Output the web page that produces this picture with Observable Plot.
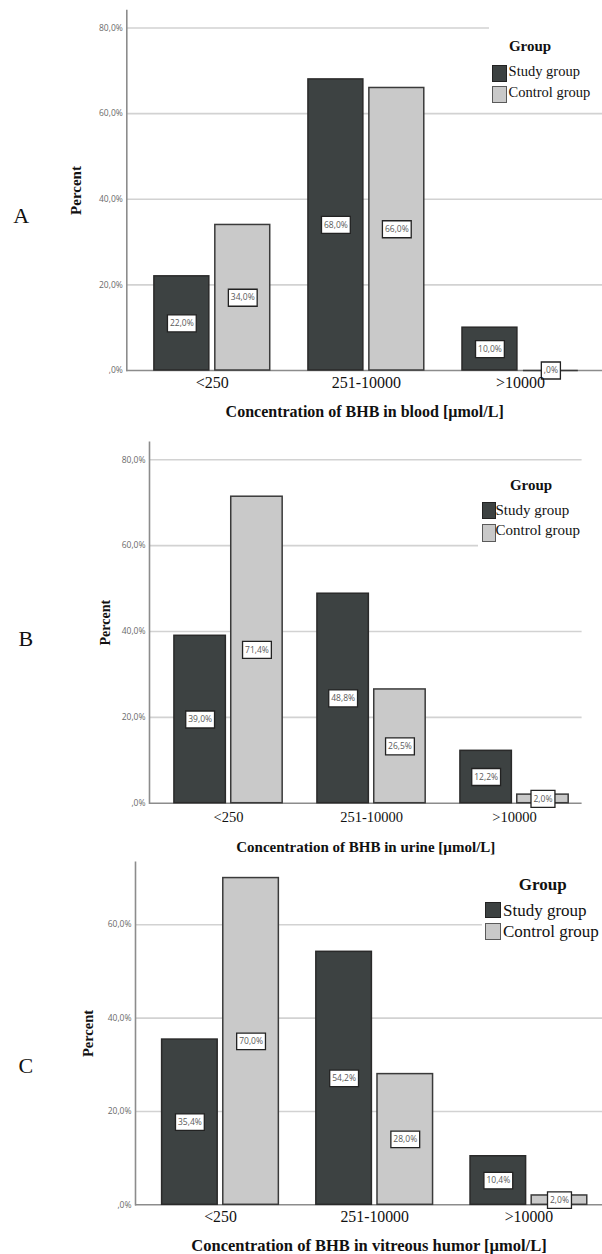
<!DOCTYPE html>
<html><head><meta charset="utf-8">
<script src="https://cdn.jsdelivr.net/npm/d3@7"></script>
<script src="https://cdn.jsdelivr.net/npm/@observablehq/plot@0.6"></script>
<style>
html,body{margin:0;padding:0;background:#fff;}
#root{position:relative;width:602px;height:1254px;overflow:hidden;background:#fff;}
.panel{position:relative;width:602px;}
.panel svg{display:block;}
.lbl{position:absolute;white-space:nowrap;line-height:1;font-family:"Liberation Serif","Times New Roman",serif;color:#111;}
.legend{position:absolute;background:#fff;}
.sw{position:absolute;box-sizing:border-box;}
g[aria-label="y-axis label"] text, g[aria-label="x-axis label"] text{font-family:"Liberation Serif",serif;font-weight:bold;fill:#111;}
</style></head><body><div id="root"></div>
<script>
// ---- data ----
const categories = ["<250", "251-10000", ">10000"];
const groups = ["Study group", "Control group"];
const bloodStudy = [22.0, 68.0, 10.0];
const bloodControl = [34.0, 66.0, 0.0];
const urineStudy = [39.0, 48.8, 12.2];
const urineControl = [71.4, 26.5, 2.0];
const vitreousStudy = [35.4, 54.2, 10.4];
const vitreousControl = [70.0, 28.0, 2.0];
const yTicksAB = [0, 20, 40, 60, 80];
const yTicksC = [0, 20, 40, 60];
const panelLetters = ["A", "B", "C"];
const xTitles = ["Concentration of BHB in blood [µmol/L]", "Concentration of BHB in urine [µmol/L]", "Concentration of BHB in vitreous humor [µmol/L]"];
const yTitle = "Percent";
const legendTitle = "Group";

// ---- style ----
const STUDY = "#3d4242", CONTROL = "#c9c9c9", EDGE = "#2a2a2a";
const fmt = v => (v === 0 ? "" : (Math.floor(v)).toString()) + "," + Math.round((v % 1) * 10) + "%";
const labelFont = "8.5px 'Open Sans'";
const cv = document.createElement("canvas").getContext("2d");
cv.font = labelFont;
const halfBox = t => (cv.measureText(t).width + 5) / 2;
const boxSymbol = h => ({draw(ctx, size) {
  const r = Math.sqrt(size / Math.PI);
  ctx.moveTo(-r, -h / 2); ctx.lineTo(r, -h / 2); ctx.lineTo(r, h / 2); ctx.lineTo(-r, h / 2); ctx.closePath();
}});

const layouts = [
  {height: 424, mt: 10, mb: 54, ml: 126.3, mr: 0, yMax: 84.1, pi: 0.248, po: 0.168, align: 0.533, gap: 6,
   tickFs: 16, tickPad: 6.5, xfs: 16, xlo: 46, yfs: 15, ylo: 56.2, boxH: 17,
   letter: {left: 13.3, base: 223},
   leg: {box: [489, 25, 113, 80], tcx: 530, tbase: 51.6, tfs: 15, fs: 14.5, swl: 492, sww: 15, swh: 17, s1: 65, b1: 76.6, s2: 86, b2: 97.3, tl: 508.6}},
  {height: 432, mt: 17.7, mb: 53.3, ml: 149, mr: 20.4, yMax: 84.1, pi: 0.243, po: 0.134, align: 0.65, gap: 5.4,
   tickFs: 14.5, tickPad: 8.5, xfs: 15, xlo: 48.3, yfs: 14, ylo: 49.5, boxH: 17,
   letter: {left: 18.4, base: 222.7},
   leg: {box: [478, 46, 105, 78], tcx: 531, tbase: 66.7, tfs: 15, fs: 15, swl: 481.7, sww: 14, swh: 17.5, s1: 77.7, b1: 91.7, s2: 100, b2: 111.7, tl: 495.5}},
  {height: 398, mt: 5.7, mb: 49.7, ml: 135, mr: 0, yMax: 73.4, pi: 0.243, po: 0.1357, align: 0.636, gap: 5.6,
   tickFs: 15.8, tickPad: 6, xfs: 16.5, xlo: 45.7, yfs: 14.5, ylo: 53, boxH: 16.5,
   letter: {left: 18.4, base: 217},
   leg: {box: [482, 14, 120, 76], tcx: 542.8, tbase: 34.3, tfs: 17, fs: 17, swl: 484.8, sww: 16, swh: 16.7, s1: 45.7, b1: 60.3, s2: 67.3, b2: 81, tl: 503}}
];
const series = [[bloodStudy, bloodControl, yTicksAB], [urineStudy, urineControl, yTicksAB], [vitreousStudy, vitreousControl, yTicksC]];

function textDiv(parent, txt, left, base, fs, bold, extra = "") {
  const d = document.createElement("div");
  d.className = "lbl";
  d.textContent = txt;
  d.style.cssText = `left:${left}px;top:${base - 0.8375 * fs}px;font-size:${fs}px;font-weight:${bold ? "bold" : "normal"};${extra}`;
  parent.appendChild(d);
  return d;
}

const root = document.getElementById("root");
layouts.forEach((L, k) => {
  const [study, control, ticks] = series[k];
  const rows = [];
  categories.forEach((c, i) => {
    rows.push({category: c, group: groups[0], value: study[i]});
    rows.push({category: c, group: groups[1], value: control[i]});
  });
  const W = 602;
  const band = d3.scaleBand(categories, [L.ml, W - L.mr]).paddingInner(L.pi).paddingOuter(L.po).align(L.align);
  const bw = band.bandwidth();
  const inset = bw / 2 + L.gap / 2;
  const off = bw / 4 + L.gap / 4;
  const S = rows.filter(d => d.group === groups[0]);
  const C = rows.filter(d => d.group === groups[1]);
  const sym = boxSymbol(L.boxH);

  const chart = Plot.plot({
    width: W, height: L.height,
    marginTop: L.mt, marginBottom: L.mb, marginLeft: L.ml, marginRight: L.mr,
    x: {type: "band", domain: categories, paddingInner: L.pi, paddingOuter: L.po, align: L.align, round: false},
    y: {domain: [0, L.yMax]},
    r: {type: "identity"},
    marks: [
      Plot.gridY(ticks.filter(t => t > 0), {stroke: "#d2d2d2", strokeOpacity: 1, strokeWidth: 1.6}),
      Plot.frame({anchor: "left", stroke: "#8c8c8c", strokeWidth: 1.6}),
      Plot.ruleY([0], {stroke: "#8c8c8c", strokeWidth: 1.6}),
      Plot.barY(S, {x: "category", y: "value", fill: STUDY, stroke: EDGE, strokeWidth: 1.5, insetRight: inset}),
      Plot.barY(C, {x: "category", y: "value", fill: CONTROL, stroke: "#3a3a3a", strokeWidth: 1.5, insetLeft: inset}),
      Plot.tickY(C.filter(d => d.value === 0), {x: "category", y: "value", stroke: "#3a3a3a", strokeWidth: 1.5, insetLeft: inset}),
      Plot.dot(S, {x: "category", y: d => d.value / 2, dx: -off, r: d => halfBox(fmt(d.value)), symbol: sym, fill: "white", stroke: "#222", strokeWidth: 1.3}),
      Plot.dot(C, {x: "category", y: d => d.value / 2, dx: off, r: d => halfBox(fmt(d.value)), symbol: sym, fill: "white", stroke: "#222", strokeWidth: 1.3}),
      Plot.text(S, {x: "category", y: d => d.value / 2, dx: -off, text: d => fmt(d.value), fill: "#5a5a5a", fontSize: 8.5, fontFamily: "Open Sans"}),
      Plot.text(C, {x: "category", y: d => d.value / 2, dx: off, text: d => fmt(d.value), fill: "#5a5a5a", fontSize: 8.5, fontFamily: "Open Sans"}),
      Plot.axisY({ticks, tickSize: 0, tickPadding: 4, tickFormat: fmt, fontSize: 8.5, fontFamily: "Open Sans", fill: "#6a6a6a",
        label: yTitle, labelAnchor: "center", labelOffset: L.ylo, labelArrow: "none"}),
      Plot.axisX({tickSize: 0, tickPadding: L.tickPad, fontSize: L.tickFs, fontFamily: "Liberation Serif", fill: "#111",
        label: xTitles[k], labelAnchor: "center", labelOffset: L.xlo, labelArrow: "none"})
    ]
  });
  const yl = chart.querySelector('g[aria-label="y-axis label"] text');
  if (yl) yl.style.fontSize = L.yfs + "px";
  const xl = chart.querySelector('g[aria-label="x-axis label"] text');
  if (xl) xl.style.fontSize = L.xfs + "px";

  const p = document.createElement("div");
  p.className = "panel";
  p.style.height = L.height + "px";
  p.appendChild(chart);
  root.appendChild(p);

  textDiv(p, panelLetters[k], L.letter.left, L.letter.base, 22, false);

  const g = L.leg;
  const box = document.createElement("div");
  box.className = "legend";
  box.style.cssText = `left:${g.box[0]}px;top:${g.box[1]}px;width:${g.box[2]}px;height:${g.box[3]}px;`;
  p.appendChild(box);
  textDiv(p, legendTitle, g.tcx - 50, g.tbase, g.tfs, true, "width:100px;text-align:center;");
  [[STUDY, "#222", g.s1, g.b1, groups[0]], [CONTROL, "#5a5a5a", g.s2, g.b2, groups[1]]].forEach(([fill, bc, top, base, name]) => {
    const s = document.createElement("div");
    s.className = "sw";
    s.style.cssText = `left:${g.swl}px;top:${top}px;width:${g.sww}px;height:${g.swh}px;background:${fill};border:1.3px solid ${bc};`;
    p.appendChild(s);
    textDiv(p, name, g.tl, base, g.fs, false);
  });
});
</script>
</body></html>
